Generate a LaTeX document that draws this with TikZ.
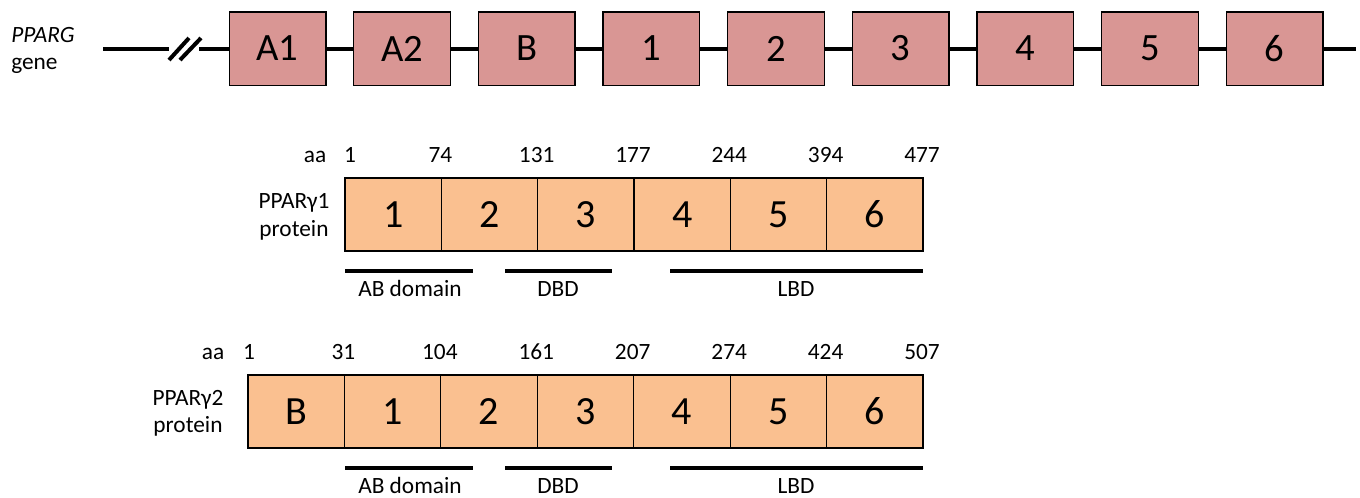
\documentclass[tikz,border=0pt]{standalone}
\usepackage{fontspec}
\setmainfont{Carlito}
\definecolor{genecol}{HTML}{D99694}
\definecolor{protcol}{HTML}{FAC090}
\tikzset{
  genebox/.style={draw=black, line width=1pt, fill=genecol, minimum width=72.5pt, minimum height=55pt, inner sep=0pt, font=\fontsize{29}{32}\selectfont},
  seg/.style={draw=black, line width=0.9pt, fill=protcol, minimum width=72.3pt, minimum height=54.75pt, inner sep=0pt, font=\fontsize{30}{33}\selectfont},
  geneline/.style={line width=3pt},
  dombar/.style={line width=3.2pt},
  small/.style={font=\fontsize{17.5}{20}\selectfont, inner sep=0pt, anchor=base},
}
\begin{document}
\begin{tikzpicture}[x=0.75pt, y=-0.75pt]
\useasboundingbox (0,0) rectangle (1360,497);
% gene
\node[small, anchor=base west] (glab1) at (11,42) {\itshape PPARG};
\node[small, anchor=base west] (glab2) at (11,69) {gene};
\coordinate (g0) at (103,48.5);
\coordinate (b1) at (169,48.5);
\coordinate (b2) at (199,48.5);
\coordinate (gend) at (1356,48.5);
\coordinate (s1a) at (169,60); \coordinate (s1b) at (189,38);
\coordinate (s2a) at (180,60); \coordinate (s2b) at (201,38);
\foreach \n/\t [count=\i from 0] in {A1/A1,A2/A2,B/B,e1/1,e2/2,e3/3,e4/4,e5/5,e6/6} {
  \node[genebox] (\n) at ({277.5+124.65*\i},48.5) {\t};
}
\draw[geneline] (g0) -- (b1);
\draw[geneline] (s1a) -- (s1b);
\draw[geneline] (s2a) -- (s2b);
\draw[geneline] (b2) -- (A1);
\draw[geneline] (A1) -- (A2);
\draw[geneline] (A2) -- (B);
\draw[geneline] (B) -- (e1);
\draw[geneline] (e1) -- (e2);
\draw[geneline] (e2) -- (e3);
\draw[geneline] (e3) -- (e4);
\draw[geneline] (e4) -- (e5);
\draw[geneline] (e5) -- (e6);
\draw[geneline] (e6) -- (gend);
% protein 1
\node[small] (p1l1) at (294,208) {PPARγ1};
\node[small] (p1l2) at (294,236) {protein};
\foreach \t [count=\i from 0] in {1,2,3,4,5,6} {
  \node[seg] (pa\i) at ({345+96.33*(\i+0.5)},214.5) {\t};
}
\node[small] (aa1) at (315,162) {aa};
\node[small] (n1a) at (350,162) {1};
\foreach \t [count=\i from 1] in {74,131,177,244,394,477} {
  \node[small] (n1\i) at ({345+96.33*\i-1},162) {\t};
}
\coordinate (d1a) at (345,271); \coordinate (d1b) at (473,271);
\coordinate (d1c) at (505,271); \coordinate (d1d) at (612,271);
\coordinate (d1e) at (670,271); \coordinate (d1f) at (923,271);
\draw[dombar] (d1a) -- (d1b);
\draw[dombar] (d1c) -- (d1d);
\draw[dombar] (d1e) -- (d1f);
\node[small] (ab1) at (410,296) {AB domain};
\node[small] (dbd1) at (558,296) {DBD};
\node[small] (lbd1) at (796,296) {LBD};
% protein 2
\node[small] (p2l1) at (188,405) {PPARγ2};
\node[small] (p2l2) at (188,432) {protein};
\foreach \t [count=\i from 0] in {B,1,2,3,4,5,6} {
  \node[seg] (pb\i) at ({248+96.43*(\i+0.5)},411.5) {\t};
}
\node[small] (aa2) at (213,359) {aa};
\node[small] (n2a) at (249,359) {1};
\foreach \t [count=\i from 1] in {31,104,161,207,274,424,507} {
  \node[small] (n2\i) at ({248+96.43*\i-1},359) {\t};
}
\coordinate (d2a) at (345,468); \coordinate (d2b) at (473,468);
\coordinate (d2c) at (505,468); \coordinate (d2d) at (612,468);
\coordinate (d2e) at (670,468); \coordinate (d2f) at (923,468);
\draw[dombar] (d2a) -- (d2b);
\draw[dombar] (d2c) -- (d2d);
\draw[dombar] (d2e) -- (d2f);
\node[small] (ab2) at (410,493) {AB domain};
\node[small] (dbd2) at (558,493) {DBD};
\node[small] (lbd2) at (796,493) {LBD};
\end{tikzpicture}
\end{document}
